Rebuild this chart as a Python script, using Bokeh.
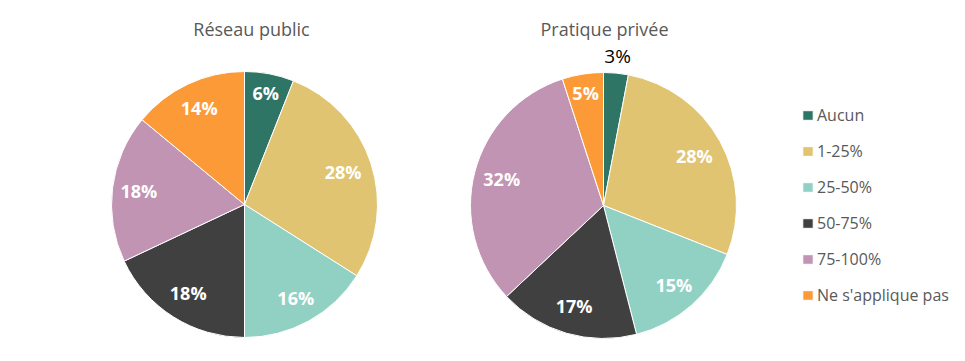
import math
from bokeh.plotting import figure
from bokeh.models import ColumnDataSource, Range1d, Legend, LegendItem
from bokeh.core.properties import value
from bokeh.embed import file_html
from bokeh.resources import INLINE

# ---- data ----
categories = ["Aucun", "1-25%", "25-50%", "50-75%", "75-100%", "Ne s'applique pas"]
public_values = [6, 28, 16, 18, 18, 14]
private_values = [3, 28, 15, 17, 32, 5]
titles = ["Réseau public", "Pratique privée"]
colors = ["#2E7566", "#E0C472", "#90D1C4", "#404040", "#C194B4", "#FD9A38"]

W, H = 965, 361
FONT = "Open Sans"

p = figure(width=W, height=H, output_backend="svg", toolbar_location=None,
           x_range=Range1d(0, W), y_range=Range1d(0, H),
           min_border=0, outline_line_color=None)
p.axis.visible = False
p.grid.visible = False

R = 133
pies = [
    dict(vals=public_values, cx=244, cy=H - 204, title_x=251,
         lab_f=[0.85, 0.78, 0.80, 0.79, 0.80, 0.80], outside=[]),
    dict(vals=private_values, cx=603, cy=H - 205, title_x=604,
         lab_f=[1.13, 0.78, 0.80, 0.79, 0.79, 0.86], outside=[0]),
]

renderers = []
for k, pie in enumerate(pies):
    vals = pie["vals"]
    tot = float(sum(vals))
    starts, ends, mids = [], [], []
    cum = 0.0
    for v in vals:
        a0 = math.pi / 2 - 2 * math.pi * cum / tot
        cum += v
        a1 = math.pi / 2 - 2 * math.pi * cum / tot
        starts.append(a1)
        ends.append(a0)
        mids.append((a0 + a1) / 2)
    src = ColumnDataSource(dict(start=starts, end=ends, color=colors,
                                cat=categories, val=vals))
    r = p.wedge(x=pie["cx"], y=pie["cy"], radius=R, start_angle="start",
                end_angle="end", fill_color="color", line_color="white",
                line_width=1, source=src)
    renderers.append(r)

    # labels
    lx_in, ly_in, lt_in = [], [], []
    lx_out, ly_out, lt_out = [], [], []
    for i, v in enumerate(vals):
        f = pie["lab_f"][i]
        x = pie["cx"] + R * f * math.cos(mids[i])
        y = pie["cy"] + R * f * math.sin(mids[i])
        if i in pie["outside"]:
            lx_out.append(x); ly_out.append(y); lt_out.append(f"{v}%")
        else:
            lx_in.append(x); ly_in.append(y); lt_in.append(f"{v}%")
    p.text(x=lx_in, y=ly_in, text=lt_in, text_color="white",
           text_font=value(FONT), text_font_style="bold",
           text_font_size="18px", text_align="center", text_baseline="middle")
    if lx_out:
        p.text(x=lx_out, y=ly_out, text=lt_out, text_color="#000000",
               text_font=value(FONT), text_font_size="19px",
               text_align="center", text_baseline="middle")
    # title
    p.text(x=[pie["title_x"]], y=[H - 28], text=[titles[k]],
           text_color="#595959", text_font=value(FONT),
           text_font_size="18px", text_align="center",
           text_baseline="middle")

items = [LegendItem(label=c, renderers=[renderers[0]], index=i)
         for i, c in enumerate(categories)]
legend = Legend(items=items, location=(801, 55), orientation="vertical",
                border_line_color=None, background_fill_alpha=0,
                padding=0, margin=0, spacing=14, label_height=21,
                glyph_height=12, glyph_width=13, label_standoff=3,
                label_text_font=FONT, label_text_font_size="16px",
                label_text_color="#595959")
p.add_layout(legend)

open("out.html", "w").write(file_html(p, INLINE))
